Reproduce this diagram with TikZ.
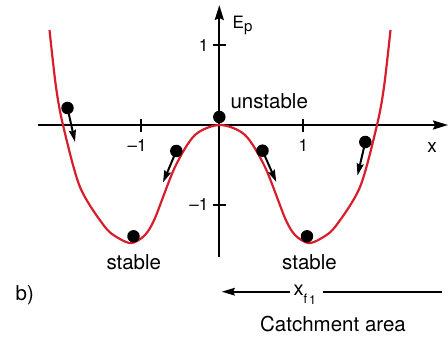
\documentclass[tikz,border=0pt]{standalone}
\usepackage{fontspec}
\setmainfont{TeX Gyre Heros}
\usetikzlibrary{arrows.meta}
\definecolor{curvered}{RGB}{216,30,44}
\begin{document}
\begin{tikzpicture}[x=1pt,y=-1pt,
  axis/.style={line width=2.2pt,-{Stealth[length=15pt,width=9pt,inset=2pt]}},
  tickline/.style={line width=2.2pt},
  pcurve/.style={curvered,line width=2.2pt},
  ball/.style={circle,fill=black,inner sep=0pt,minimum size=12.5pt},
  push/.style={line width=2pt,-{Stealth[length=12pt,width=7pt,inset=1.5pt]}},
  small/.style={font=\fontsize{17}{20}\selectfont,inner sep=0pt},
  big/.style={font=\fontsize{20.5}{24}\selectfont,inner sep=0pt}]
\useasboundingbox (0,0) rectangle (448,339);
% axes
\coordinate (xl) at (38,125);
\coordinate (xr) at (448,125);
\coordinate (yb) at (219.3,257.5);
\coordinate (yt) at (219.3,5);
\draw[axis] (xl) -- (xr);
\draw[axis] (yb) -- (yt);
% ticks
\coordinate (ty1a) at (213,45.3); \coordinate (ty1b) at (226,45.3);
\coordinate (ty2a) at (213,204.7); \coordinate (ty2b) at (226,204.7);
\coordinate (tx1a) at (141.3,119); \coordinate (tx1b) at (141.3,132);
\coordinate (tx2a) at (303.3,119); \coordinate (tx2b) at (303.3,132);
\draw[tickline] (ty1a) -- (ty1b);
\draw[tickline] (ty2a) -- (ty2b);
\draw[tickline] (tx1a) -- (tx1b);
\draw[tickline] (tx2a) -- (tx2b);
% tick labels
\node[small,anchor=east] (ly1) at (208.5,45.3) {1};
\node[small,anchor=east] (lym1) at (208.5,204.7) {–1};
\node[small] (lxm1) at (137,145.3) {–1};
\node[small] (lx1) at (303.3,145.3) {1};
\node[font=\fontsize{19}{22}\selectfont,inner sep=0pt] (lx) at (432,147.7) {x};
\node[small,anchor=base west] (lE) at (232.5,28.3) {E\raisebox{-3.5pt}{\fontsize{15}{15}\selectfont p}};
% curve
\draw[pcurve] plot[smooth] coordinates {
 (49.5,30) (56,87) (63,125) (80,187) (105,227) (120,239) (132,243) (145,235)
 (155,218) (175,167) (195,135) (220,125)
 (245,135) (265,167) (285,218) (295,235) (308,243) (320,239)
 (335,227) (360,187) (377,125) (384,87) (390.5,30)};
% balls
\node[ball] (b1) at (67.5,108) {};
\node[ball] (b2) at (176.3,151) {};
\node[ball] (b3) at (219.3,117) {};
\node[ball] (b4) at (262.5,150.7) {};
\node[ball] (b5) at (365.3,142) {};
\node[ball] (b6) at (133.5,236.3) {};
\node[ball] (b7) at (307,236.3) {};
\coordinate (t1) at (75,142);
\coordinate (t2) at (163,182.5);
\coordinate (t4) at (276.3,182);
\coordinate (t5) at (357.5,175.5);
\draw[push] (b1.center) -- (t1);
\draw[push] (b2.center) -- (t2);
\draw[push] (b4.center) -- (t4);
\draw[push] (b5.center) -- (t5);
% labels
\node[big,anchor=base] (lu) at (269.2,108.5) {unstable};
\node[big,anchor=base] (ls1) at (133.8,269.3) {stable};
\node[big,anchor=base] (ls2) at (309.5,269.3) {stable};
\node[big,anchor=base west] (lb) at (15.5,301) {b)};
% catchment arrow
\node[font=\fontsize{20}{24}\selectfont,inner ysep=0pt,inner xsep=3.3pt,anchor=base west] (xf) at (290,296)
  {x\raisebox{-7.3pt}{\fontsize{13}{13}\selectfont f}\raisebox{-9pt}{\fontsize{12.5}{13}\selectfont\,1}};
\coordinate (al) at (221.7,291.7);
\coordinate (ar) at (441.7,291.7);
\draw[line width=2pt,-{Stealth[length=13pt,width=7.5pt,inset=1.5pt]}] (xf.west |- al) -- (al);
\draw[line width=2pt] ([xshift=3pt]xf.east |- ar) -- (ar);
\node[big,anchor=base] (lc) at (333,331.5) {Catchment area};
\end{tikzpicture}
\end{document}
